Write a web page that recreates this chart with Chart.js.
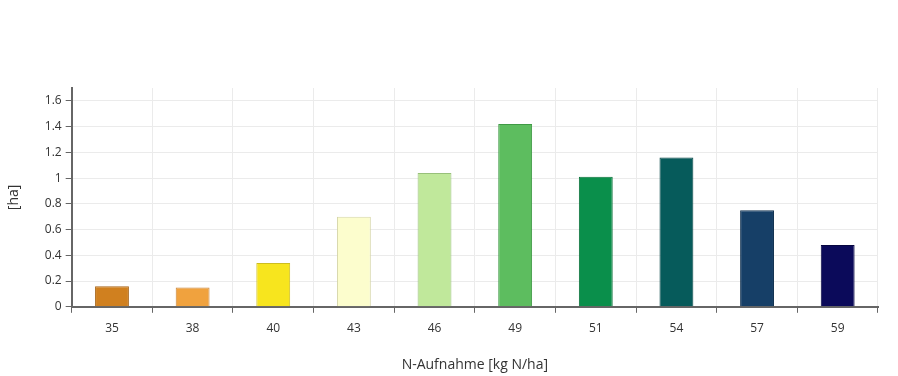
<!DOCTYPE html>
<html>
<head>
<meta charset="utf-8">
<script src="https://cdn.jsdelivr.net/npm/chart.js@4"></script>
<style>
  html, body { margin: 0; padding: 0; background: #fff; }
  #wrap { width: 898px; height: 376px; }
</style>
</head>
<body>
<div id="wrap"><canvas id="chart"></canvas></div>
<script>
const categories = ["35", "38", "40", "43", "46", "49", "51", "54", "57", "59"];
const areaHa = [0.16, 0.15, 0.34, 0.70, 1.04, 1.42, 1.01, 1.16, 0.75, 0.48];
const yTicks = [0, 0.2, 0.4, 0.6, 0.8, 1, 1.2, 1.4, 1.6];

const fills = ["#d0801f", "#f0a23e", "#f7e51e", "#fcfdcd", "#c0e89b",
  "#5dbd5f", "#0a8f4b", "#065b5b", "#163f67", "#0b0a5a"];
const borders = ["#a8661a", "#c8843a", "#cdbd20", "#d6d6a8", "#98c07a",
  "#3f9a45", "#087038", "#044545", "#10304f", "#060640"];

const ctx = document.getElementById("chart").getContext("2d");
new Chart(ctx, {
  type: "bar",
  data: {
    labels: categories,
    datasets: [{
      data: areaHa,
      backgroundColor: fills,
      borderColor: borders,
      borderWidth: 1,
      barPercentage: 0.42,
      categoryPercentage: 1,
    }],
  },
  options: {
    responsive: true,
    maintainAspectRatio: false,
    animation: false,
    plugins: {
      legend: { display: false },
      tooltip: { enabled: false },
    },
    layout: {
      padding: { left: 6, right: 20, top: 88, bottom: 3 },
    },
    scales: {
      x: {
        grid: {
          offset: true,
          color: "#ebebeb",
          tickColor: "#666",
          tickLength: 6,
        },
        border: { color: "#666", width: 2 },
        ticks: {
          color: "#333",
          padding: 9,
          font: { family: "'Open Sans', sans-serif", size: 12 },
        },
        title: {
          display: true,
          text: "N-Aufnahme [kg N/ha]",
          color: "#333",
          padding: { top: 11, bottom: 0 },
          font: { family: "'Open Sans', sans-serif", size: 14 },
        },
      },
      y: {
        min: 0,
        max: 1.7,
        afterBuildTicks: function (scale) {
          scale.ticks = yTicks.map(v => ({ value: v }));
        },
        grid: {
          color: "#ebebeb",
          tickColor: "#666",
          tickLength: 6,
        },
        border: { color: "#666", width: 2 },
        ticks: {
          color: "#333",
          padding: 4,
          font: { family: "'Open Sans', sans-serif", size: 12 },
          callback: function (value) {
            return String(Math.round(value * 10) / 10);
          },
        },
        title: {
          display: true,
          text: "[ha]",
          color: "#333",
          padding: { top: 0, bottom: 18 },
          font: { family: "'Open Sans', sans-serif", size: 14 },
        },
      },
    },
  },
});
</script>
</body>
</html>
